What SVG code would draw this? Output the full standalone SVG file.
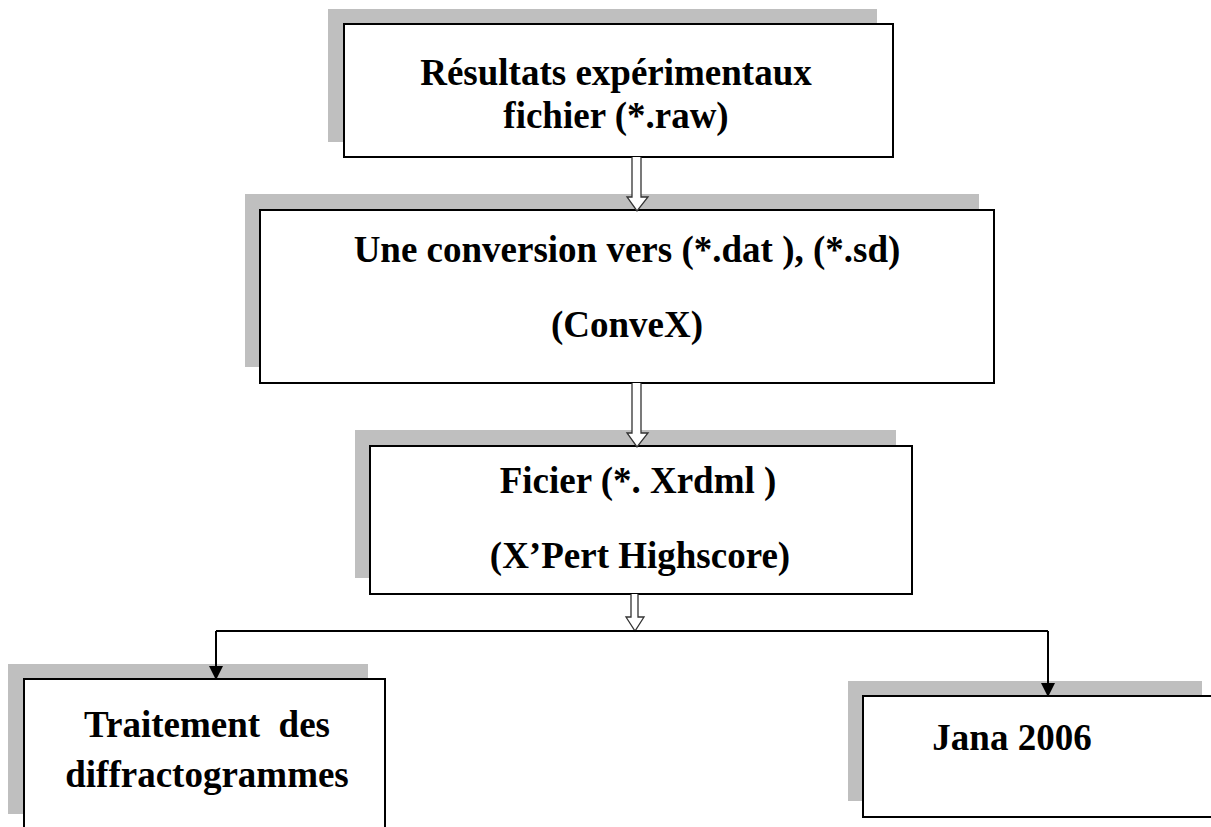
<svg xmlns="http://www.w3.org/2000/svg" width="1211" height="827" viewBox="0 0 1211 827">
<defs>
<style>
.sh{fill:#bfbfbf;stroke:none}
.bx{fill:#fff;stroke:#000;stroke-width:2}
.t{font-family:"Liberation Serif","Times New Roman",serif;font-weight:bold;font-size:37px;fill:#000;text-anchor:middle}
.ha{fill:#fff;stroke:#333;stroke-width:1.3;stroke-linejoin:miter}
.ln{fill:none;stroke:#000;stroke-width:2}
</style>
<marker id="ah" markerWidth="14" markerHeight="14" refX="13" refY="7" orient="auto" markerUnits="userSpaceOnUse">
<path d="M0,0 L14,7 L0,14 Z" fill="#000"/>
</marker>
</defs>
<rect width="1211" height="827" fill="#fff"/>

<g id="node1">
<rect class="sh" x="328" y="9" width="549" height="133"/>
<rect class="bx" x="344" y="24" width="549" height="133"/>
<text class="t" x="616" y="85">Résultats expérimentaux</text>
<text class="t" x="616" y="128">fichier (*.raw)</text>
</g>

<g id="node2">
<rect class="sh" x="245" y="194" width="734" height="173"/>
<rect class="bx" x="260" y="210" width="734" height="173"/>
<text class="t" x="627" y="262">Une conversion vers (*.dat ), (*.sd)</text>
<text class="t" x="627" y="337">(ConveX)</text>
</g>

<g id="node3">
<rect class="sh" x="355" y="430" width="541" height="148"/>
<rect class="bx" x="370" y="446" width="542" height="148"/>
<text class="t" x="638" y="493">Ficier (*. Xrdml )</text>
<text class="t" x="640" y="568">(X’Pert Highscore)</text>
</g>

<g id="node4">
<rect class="sh" x="8" y="664" width="360" height="150"/>
<rect class="bx" x="24" y="679" width="361" height="160"/>
<text class="t" x="207" y="737" xml:space="preserve">Traitement  des</text>
<text class="t" x="207" y="787">diffractogrammes</text>
</g>

<g id="node5">
<rect class="sh" x="848" y="681" width="354" height="120"/>
<rect class="bx" x="863" y="696" width="360" height="121"/>
<text class="t" x="1012" y="750">Jana 2006</text>
</g>

<g id="connectors">
<path class="ha" d="M632,157 L632,197 L627,197 L637,211 L648,197 L641,197 L641,157"/>
<path class="ha" d="M632,383 L632,433 L627,433 L637,447 L648,433 L641,433 L641,383"/>
<path class="ha" d="M631,594 L631,617 L626,617 L635,631 L644,617 L638,617 L638,594"/>
<path class="ln" d="M216,631 L1048,631"/>
<path class="ln" d="M216,631 L216,679" marker-end="url(#ah)"/>
<path class="ln" d="M1048,631 L1048,696" marker-end="url(#ah)"/>
</g>
</svg>
